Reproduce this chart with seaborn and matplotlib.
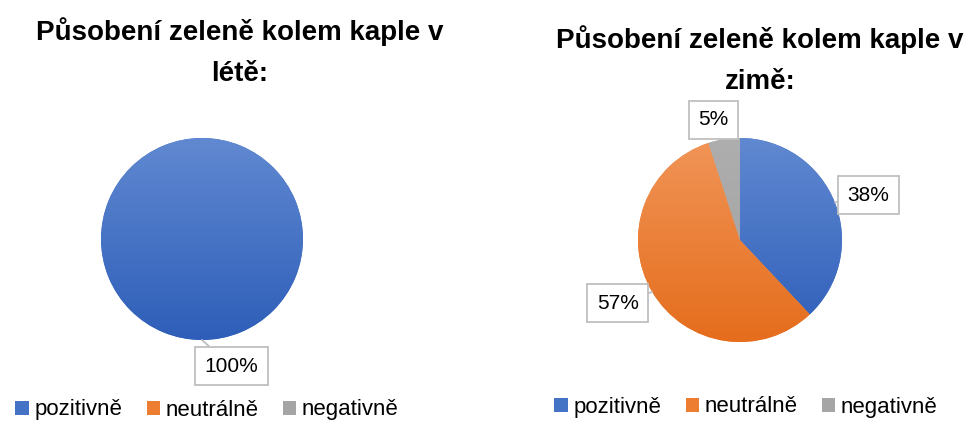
import numpy as np
import matplotlib
matplotlib.use('Agg')
import matplotlib.pyplot as plt
from matplotlib.colors import LinearSegmentedColormap
import seaborn as sns

# data
categories = ['pozitivně', 'neutrálně', 'negativně']
summer_values = [100, 0, 0]
winter_values = [38, 57, 5]
titles = ['Působení zeleně kolem kaple v\nlétě:', 'Působení zeleně kolem kaple v\nzimě:']

sns.set_theme(style='white')
plt.rcParams['font.family'] = ['Liberation Sans', 'DejaVu Sans']
plt.rcParams['text.color'] = 'black'

base_colors = ['#4472C4', '#ED7D31', '#A5A5A5']
top_colors = ['#6189D1', '#F19558', '#AEAEAE']
bot_colors = ['#2E5EB9', '#E56D1C', '#A0A0A0']

W, H = 968, 421
fig = plt.figure(figsize=(W / 100, H / 100), dpi=100)


def pie_axes(cx, cy, r, half=1.6):
    # cx, cy in pixels from top-left, r pixel radius
    side = 2 * half * r
    return fig.add_axes([(cx - half * r) / W, (H - cy - half * r) / H, side / W, side / H])


def draw_pie(ax, values, label_pos):
    wedges, _ = ax.pie(values, startangle=90, counterclock=False,
                       colors=base_colors, wedgeprops=dict(linewidth=0))
    grad = np.linspace(0, 1, 256).reshape(-1, 1)
    for i, w in enumerate(wedges):
        if values[i] == 0:
            continue
        cmap = LinearSegmentedColormap.from_list('g', [top_colors[i], bot_colors[i]])
        im = ax.imshow(grad, cmap=cmap, extent=(-1, 1, -1, 1), aspect='auto',
                       origin='upper', zorder=2)
        im.set_clip_path(w)
    total = sum(values)
    for i, w in enumerate(wedges):
        if values[i] == 0:
            continue
        mid = np.deg2rad((w.theta1 + w.theta2) / 2)
        xy = (np.cos(mid), np.sin(mid))
        ax.annotate(f'{round(values[i] / total * 100)}%', xy=xy, xytext=label_pos[i],
                    ha='center', va='center', fontsize=15, color='black', zorder=5,
                    bbox=dict(boxstyle='square,pad=0.45', fc='white', ec='#BFBFBF', lw=1.3),
                    arrowprops=dict(arrowstyle='-', color='#BFBFBF', lw=1.3,
                                    shrinkA=0, shrinkB=0))
    ax.set_xlim(-1.6, 1.6)
    ax.set_ylim(-1.6, 1.6)
    ax.set_aspect('equal')
    ax.axis('off')
    return wedges


ax1 = pie_axes(202, 239, 101)
w1 = draw_pie(ax1, summer_values, [(0.29, -1.26), None, None])
ax2 = pie_axes(740, 240, 102)
w2 = draw_pie(ax2, winter_values, [(1.26, 0.44), (-1.2, -0.62), (-0.26, 1.18)])

fig.text(240 / W, 1 - 52 / H, titles[0], ha='center', va='center', fontsize=20,
         fontweight='bold', linespacing=1.75, color='black')
fig.text(760 / W, 1 - 60 / H, titles[1], ha='center', va='center', fontsize=20,
         fontweight='bold', linespacing=1.75, color='black')

for wedges, cx, cy in [(w1, 207, 410), (w2, 746, 407)]:
    fig.legend(wedges, categories, loc='center', bbox_to_anchor=(cx / W, 1 - cy / H),
               ncol=3, frameon=False, fontsize=16, handlelength=0.6, handleheight=0.6,
               handletextpad=0.25, columnspacing=1.1, labelcolor='black',
               borderpad=0, borderaxespad=0)

fig.savefig('out.png', dpi=100)
